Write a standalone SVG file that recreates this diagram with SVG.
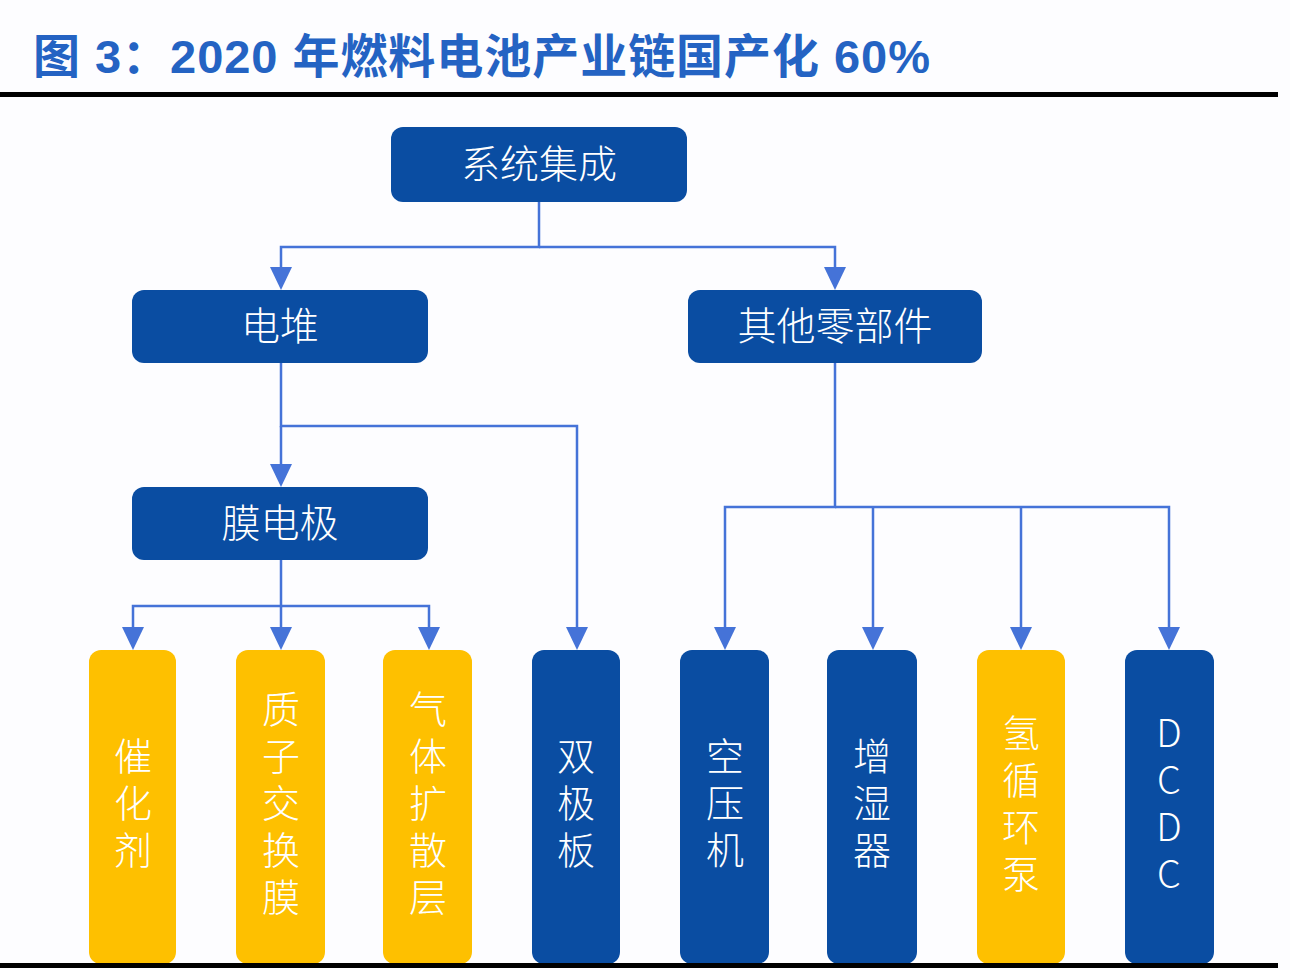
<svg xmlns="http://www.w3.org/2000/svg" width="1290" height="970" viewBox="0 0 1290 970">
  <defs>
    <style>
      .title { font-family: "Liberation Sans", "Noto Sans CJK SC", sans-serif; font-weight: 700; font-size: 47px; fill: #2463C3; }
      .nb { fill: #0A4DA2; }
      .ny { fill: #FEC000; }
      .t { font-family: "Noto Sans CJK SC", "Noto Sans", sans-serif; font-weight: 300; font-size: 39px; fill: #FFFFFF; text-anchor: middle; }
      .tv { font-family: "Noto Sans CJK SC", "Noto Sans", sans-serif; font-weight: 300; font-size: 38px; fill: #FFFFFF; text-anchor: middle; writing-mode: vertical-rl; text-orientation: upright; letter-spacing: 9px; }
      .c { fill: none; stroke: #4573D8; stroke-width: 2.5; }
      .a { fill: #4573D8; }
    </style>
  </defs>
  <rect x="0" y="0" width="1290" height="970" fill="#FDFDFF"/>

  <g id="title">
    <text class="title" x="33" y="73" textLength="897" lengthAdjust="spacing">图 3：2020 年燃料电池产业链国产化 60%</text>
    <rect x="0" y="92" width="1278" height="5" fill="#000000"/>
  </g>

  <g id="connectors">
    <path class="c" d="M539,202 V247 H281 V267"/>
    <path class="c" d="M539,247 H835 V267"/>
    <path class="c" d="M281,363 V426 H577 V627"/>
    <path class="c" d="M281,426 V464"/>
    <path class="c" d="M281,560 V606 H133 V627"/>
    <path class="c" d="M281,606 V627"/>
    <path class="c" d="M281,606 H429 V627"/>
    <path class="c" d="M835,363 V507 H725 V627"/>
    <path class="c" d="M835,507 H1169 V627"/>
    <path class="c" d="M873,507 V627"/>
    <path class="c" d="M1021,507 V627"/>
    <g class="a">
      <path d="M270,267 H292 L281,290 Z"/>
      <path d="M824,267 H846 L835,290 Z"/>
      <path d="M270,464 H292 L281,487 Z"/>
      <path d="M122,627 H144 L133,650 Z"/>
      <path d="M270,627 H292 L281,650 Z"/>
      <path d="M418,627 H440 L429,650 Z"/>
      <path d="M566,627 H588 L577,650 Z"/>
      <path d="M714,627 H736 L725,650 Z"/>
      <path d="M862,627 H884 L873,650 Z"/>
      <path d="M1010,627 H1032 L1021,650 Z"/>
      <path d="M1158,627 H1180 L1169,650 Z"/>
    </g>
  </g>

  <g id="node-system">
    <rect class="nb" x="391" y="127" width="296" height="75" rx="12"/>
    <text class="t" x="539" y="178">系统集成</text>
  </g>
  <g id="node-stack">
    <rect class="nb" x="132" y="290" width="296" height="73" rx="12"/>
    <text class="t" x="280" y="340">电堆</text>
  </g>
  <g id="node-other">
    <rect class="nb" x="688" y="290" width="294" height="73" rx="12"/>
    <text class="t" x="835" y="340">其他零部件</text>
  </g>
  <g id="node-mea">
    <rect class="nb" x="132" y="487" width="296" height="73" rx="12"/>
    <text class="t" x="280" y="537">膜电极</text>
  </g>

  <g id="node-catalyst">
    <rect class="ny" x="89" y="650" width="87" height="314" rx="12"/>
    <text class="tv" x="133" y="807">催化剂</text>
  </g>
  <g id="node-pem">
    <rect class="ny" x="236" y="650" width="89" height="314" rx="12"/>
    <text class="tv" x="281" y="807">质子交换膜</text>
  </g>
  <g id="node-gdl">
    <rect class="ny" x="383" y="650" width="89" height="314" rx="12"/>
    <text class="tv" x="428" y="807">气体扩散层</text>
  </g>
  <g id="node-bipolar">
    <rect class="nb" x="532" y="650" width="88" height="314" rx="12"/>
    <text class="tv" x="576" y="807">双极板</text>
  </g>
  <g id="node-compressor">
    <rect class="nb" x="680" y="650" width="89" height="314" rx="12"/>
    <text class="tv" x="725" y="807">空压机</text>
  </g>
  <g id="node-humidifier">
    <rect class="nb" x="827" y="650" width="90" height="314" rx="12"/>
    <text class="tv" x="872" y="807">增湿器</text>
  </g>
  <g id="node-pump">
    <rect class="ny" x="977" y="650" width="88" height="314" rx="12"/>
    <text class="tv" x="1021" y="808">氢循环泵</text>
  </g>
  <g id="node-dcdc">
    <rect class="nb" x="1125" y="650" width="89" height="314" rx="12"/>
    <text class="tv" x="1169" y="808">DCDC</text>
  </g>

  <rect x="0" y="963" width="1278" height="5" fill="#000000"/>
</svg>
